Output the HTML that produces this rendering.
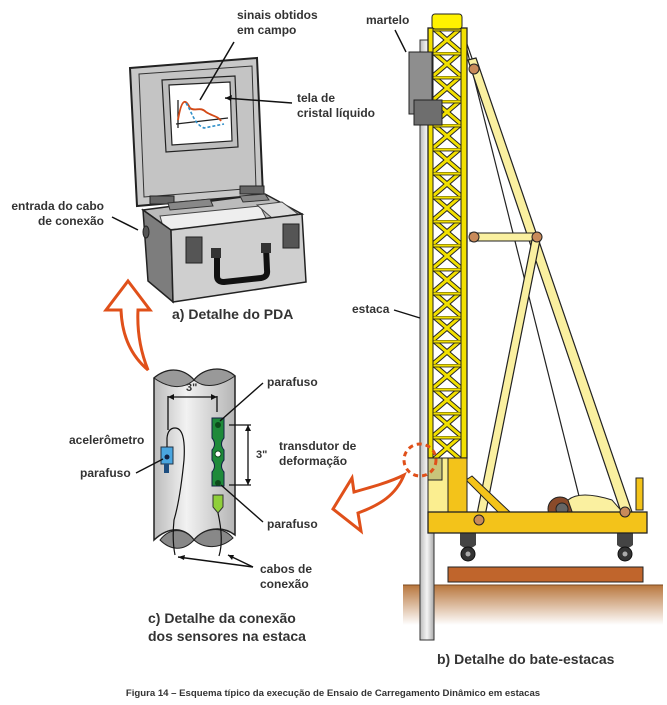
<!DOCTYPE html>
<html><head><meta charset="utf-8"><style>
html,body{margin:0;padding:0;background:#fff;}
svg{display:block;}
text{font-family:"Liberation Sans",sans-serif;font-weight:bold;fill:#333;}
</style></head><body>
<svg width="667" height="705" viewBox="0 0 667 705" xmlns="http://www.w3.org/2000/svg">
<defs>
<pattern id="lat" x="433" y="28" width="28" height="24" patternUnits="userSpaceOnUse">
<rect width="28" height="24" fill="#fff"/>
<line x1="0" y1="0" x2="28" y2="24" stroke="#222" stroke-width="5"/>
<line x1="28" y1="0" x2="0" y2="24" stroke="#222" stroke-width="5"/>
<line x1="0" y1="0" x2="28" y2="24" stroke="#f2e000" stroke-width="3"/>
<line x1="28" y1="0" x2="0" y2="24" stroke="#f2e000" stroke-width="3"/>
<rect x="0" y="0" width="28" height="3" fill="#f2e000" stroke="#222" stroke-width="0.8"/>
</pattern>
<linearGradient id="gr" x1="0" y1="0" x2="0" y2="1"><stop offset="0" stop-color="#b8763c"/><stop offset="1" stop-color="#fff"/></linearGradient>
<linearGradient id="pile" x1="0" y1="0" x2="1" y2="0"><stop offset="0" stop-color="#bbb"/><stop offset="0.5" stop-color="#f4f4f4"/><stop offset="1" stop-color="#aaa"/></linearGradient>
<linearGradient id="cyl" x1="0" y1="0" x2="1" y2="0"><stop offset="0" stop-color="#bbb"/><stop offset="0.4" stop-color="#f2f2f2"/><stop offset="1" stop-color="#b5b5b5"/></linearGradient>
</defs>

<!-- ===== PDA ===== -->
<polygon points="130,68 257,58 263,195 137,206" fill="#c8c8c8" stroke="#222" stroke-width="2"/>
<polygon points="139,74 252,66 256,188 144,197" fill="#c4c4c4" stroke="#333" stroke-width="1"/>
<polygon points="162,80 235,76 238,147 166,152" fill="#bdbdbd" stroke="#222" stroke-width="1.2"/>
<polygon points="169,85 230,82 232,141 172,145" fill="#fff" stroke="#222" stroke-width="1.2"/>
<path d="M178,100 L178,128 M176,124 L228,118" stroke="#222" stroke-width="1.3" fill="none"/>
<path d="M178,120 C182,96 186,100 190,108 C195,112 200,106 206,112 C212,116 218,116 221,121" stroke="#d34a17" stroke-width="1.8" fill="none"/>
<path d="M186,103 C192,112 194,124 204,128 L224,124" stroke="#2f8fc8" stroke-width="1.6" stroke-dasharray="3,2" fill="none"/>
<rect x="150" y="196" width="24" height="8" fill="#666" stroke="#222"/>
<rect x="240" y="186" width="24" height="8" fill="#666" stroke="#222"/>
<polygon points="143,210 265,194 302,214 171,230" fill="#bbb" stroke="#222" stroke-width="1.5"/>
<polygon points="168,203 210,199 213,206 170,210" fill="#888" stroke="#333"/>
<polygon points="240,196 265,194 269,200 243,202" fill="#888" stroke="#333"/>
<polygon points="160,216 260,206 268,222 164,230" fill="#eee" stroke="#444"/>
<polygon points="257,205 282,202 298,214 272,218" fill="#ddd" stroke="#444"/>
<polygon points="143,210 171,230 173,302 148,281" fill="#7d7d7d" stroke="#222" stroke-width="1.5"/>
<ellipse cx="146" cy="232" rx="3" ry="6" fill="#555" stroke="#222"/>
<polygon points="171,230 302,214 306,282 173,302" fill="#cfcfcf" stroke="#222" stroke-width="1.5"/>
<rect x="186" y="237" width="16" height="26" fill="#555" stroke="#222"/>
<rect x="283" y="224" width="16" height="24" fill="#555" stroke="#222"/>
<path d="M217,252 L217,276 Q217,282 224,282 L261,278 Q268,277 267,270 L266,247" stroke="#111" stroke-width="6" fill="none"/>
<rect x="211" y="248" width="10" height="10" fill="#333"/>
<rect x="261" y="243" width="10" height="10" fill="#333"/>
<text x="237" y="19" font-size="12">sinais obtidos</text>
<text x="237" y="34" font-size="12">em campo</text>
<line x1="234" y1="42" x2="200" y2="100" stroke="#111" stroke-width="1.5"/>
<text x="297" y="102" font-size="12">tela de</text>
<text x="297" y="117" font-size="12">cristal líquido</text>
<line x1="292" y1="103" x2="225" y2="98" stroke="#111" stroke-width="1.5"/>
<path d="M225,98 l7,-3 l-1,6z" fill="#111"/>
<text x="104" y="210" font-size="12" text-anchor="end">entrada do cabo</text>
<text x="104" y="225" font-size="12" text-anchor="end">de conexão</text>
<line x1="112" y1="217" x2="138" y2="230" stroke="#111" stroke-width="1.5"/>
<text x="172" y="319" font-size="14" fill="#2a2a2a">a) Detalhe do PDA</text>

<path d="M128,281 L150,310 L138,310 C137,330 140,350 148,370 C130,355 122,335 121,310 L106,310 Z" fill="#fff" stroke="#e0501a" stroke-width="3"/>

<!-- ===== pile section ===== -->
<path d="M154,378 C170,365 185,370 194,380 C204,368 222,365 235,376 L235,535 C222,525 204,528 194,540 C185,528 170,525 154,540 Z" fill="url(#cyl)" stroke="#222" stroke-width="1.5"/>
<path d="M154,378 C170,365 185,370 194,380 C204,368 222,365 235,376 C222,385 206,390 194,380 C183,390 168,388 154,378Z" fill="#999" stroke="#222"/>
<path d="M160,540 C170,527 185,528 194,540 C204,528 222,525 233,538 C222,548 205,550 194,540 C183,552 170,550 160,540Z" fill="#888" stroke="#222"/>
<path d="M168,430 L168,396 M217,396 L217,412 M168,397 L217,397" stroke="#111" stroke-width="1.3" fill="none"/>
<path d="M168,397 l6,-3 l0,6z M217,397 l-6,-3 l0,6z" fill="#111"/>
<text x="186" y="391" font-size="11">3"</text>
<path d="M212,418 h12 v20 q-5,6 0,12 v10 q-5,6 0,12 v14 h-12 v-14 q5,-6 0,-12 v-10 q5,-6 0,-12z" fill="#1e8a3a" stroke="#124" stroke-width="1"/>
<circle cx="218" cy="425" r="3" fill="#0d4a1c"/><circle cx="218" cy="454" r="3" fill="#fff" stroke="#0d4a1c"/><circle cx="218" cy="483" r="3" fill="#0d4a1c"/>
<path d="M213,495 h10 v12 l-5,6 l-5,-6z" fill="#8fcf3a" stroke="#333"/>
<rect x="161" y="447" width="12" height="17" fill="#4aa6e0" stroke="#234"/>
<circle cx="167" cy="457" r="2.5" fill="#124"/>
<rect x="164" y="464" width="5" height="9" fill="#1d4e80"/>
<path d="M167,447 L167,438 Q168,428 175,428 Q186,428 184,460 Q180,500 174,520 Q172,540 175,555" stroke="#111" stroke-width="1.2" fill="none"/>
<path d="M218,513 Q224,540 219,556" stroke="#111" stroke-width="1.2" fill="none"/>
<path d="M229,425 L251,425 M229,485 L251,485 M248,425 L248,485" stroke="#111" stroke-width="1.3" fill="none"/>
<path d="M248,425 l-3,6 l6,0z M248,485 l-3,-6 l6,0z" fill="#111"/>
<text x="256" y="458" font-size="11">3"</text>
<text x="267" y="386" font-size="12">parafuso</text>
<line x1="263" y1="383" x2="220" y2="421" stroke="#111" stroke-width="1.4"/>
<text x="69" y="444" font-size="12">acelerômetro</text>
<text x="80" y="477" font-size="12">parafuso</text>
<line x1="136" y1="473" x2="163" y2="459" stroke="#111" stroke-width="1.4"/>
<text x="279" y="450" font-size="12">transdutor de</text>
<text x="279" y="465" font-size="12">deformação</text>
<text x="267" y="528" font-size="12">parafuso</text>
<line x1="263" y1="522" x2="221" y2="485" stroke="#111" stroke-width="1.4"/>
<text x="260" y="573" font-size="12">cabos de</text>
<text x="260" y="588" font-size="12">conexão</text>
<line x1="253" y1="567" x2="178" y2="557" stroke="#111" stroke-width="1.4"/>
<line x1="253" y1="567" x2="228" y2="555" stroke="#111" stroke-width="1.4"/>
<path d="M178,557 l7,-2 l-1,5z M228,555 l6,0 l-2,5z" fill="#111"/>
<text x="148" y="623" font-size="14" fill="#2a2a2a">c) Detalhe da conexão</text>
<text x="148" y="641" font-size="14" fill="#2a2a2a">dos sensores na estaca</text>

<path d="M333,509 L352,478 L354,492 C372,487 390,482 404,475 C396,495 380,505 358,513 L361,531 Z" fill="#fff" stroke="#e0501a" stroke-width="3"/>

<!-- ===== pile driver ===== -->
<rect x="403" y="585" width="260" height="40" fill="url(#gr)"/>
<line x1="403" y1="585" x2="663" y2="585" stroke="#7a4a20" stroke-width="1"/>
<rect x="448" y="567" width="195" height="15" fill="#c0652c" stroke="#222"/>
<path d="M460,533 L476,533 L476,545 Q468,552 460,545Z" fill="#444"/>
<circle cx="468" cy="554" r="7" fill="#333" stroke="#111"/><circle cx="468" cy="554" r="2.5" fill="#aaa"/>
<path d="M617,533 L633,533 L633,545 Q625,552 617,545Z" fill="#444"/>
<circle cx="625" cy="554" r="7" fill="#333" stroke="#111"/><circle cx="625" cy="554" r="2.5" fill="#aaa"/>
<rect x="420" y="40" width="14" height="600" fill="url(#pile)" stroke="#333" stroke-width="1"/>
<line x1="462" y1="30" x2="583" y2="512" stroke="#222" stroke-width="1.2"/>
<line x1="462" y1="30" x2="631" y2="510" stroke="#222" stroke-width="1.2"/>
<polygon points="468,60 476,58 632,512 622,515" fill="#faf0a0" stroke="#222" stroke-width="1.2"/>
<rect x="470" y="233" width="67" height="8" fill="#faf0a0" stroke="#222"/>
<polygon points="532,240 540,240 484,521 476,519" fill="#faf0a0" stroke="#222" stroke-width="1.2"/>
<polygon points="466,480 472,476 510,512 500,514" fill="#f3c31a" stroke="#222"/>
<rect x="428" y="28" width="39" height="430" fill="#f2e000" stroke="#222" stroke-width="1.3"/>
<rect x="433" y="28" width="28" height="430" fill="url(#lat)" stroke="#222"/>
<rect x="432" y="14" width="30" height="15" rx="3" fill="#fff200" stroke="#222"/>
<rect x="409" y="52" width="23" height="62" fill="#8e8e8e" stroke="#222"/>
<rect x="414" y="100" width="28" height="25" fill="#6e6e6e" stroke="#222"/>
<rect x="428" y="458" width="39" height="62" fill="#f3c31a" stroke="#222"/>
<rect x="428" y="458" width="20" height="62" fill="#fbee90" stroke="#222"/>
<rect x="428" y="458" width="14" height="22" fill="#c9c47a" stroke="#222"/>
<circle cx="560" cy="509" r="12" fill="#8a4a2a" stroke="#222"/><circle cx="562" cy="509" r="6" fill="#666" stroke="#222"/>
<path d="M568,500 Q580,490 612,500 L625,515 L575,520Z" fill="#faf0a0" stroke="#222"/>
<rect x="636" y="478" width="7" height="32" fill="#f3c31a" stroke="#222"/>
<rect x="428" y="512" width="219" height="21" fill="#f3c31a" stroke="#222" stroke-width="1.3"/>
<g fill="#c88a5a" stroke="#222"><circle cx="474" cy="69" r="5"/><circle cx="474" cy="237" r="5"/><circle cx="537" cy="237" r="5"/><circle cx="479" cy="520" r="5"/><circle cx="625" cy="512" r="5"/></g>
<circle cx="420" cy="460" r="16" fill="none" stroke="#e0501a" stroke-width="3" stroke-dasharray="5,4"/>
<text x="366" y="24" font-size="12">martelo</text>
<line x1="395" y1="30" x2="406" y2="52" stroke="#111" stroke-width="1.4"/>
<text x="352" y="313" font-size="12">estaca</text>
<line x1="394" y1="310" x2="420" y2="318" stroke="#111" stroke-width="1.4"/>
<text x="437" y="664" font-size="14" fill="#2a2a2a">b) Detalhe do bate-estacas</text>
<text x="333" y="696" font-size="9.6" text-anchor="middle" fill="#111">Figura 14 – Esquema típico da execução de Ensaio de Carregamento Dinâmico em estacas</text>
</svg>
</body></html>
